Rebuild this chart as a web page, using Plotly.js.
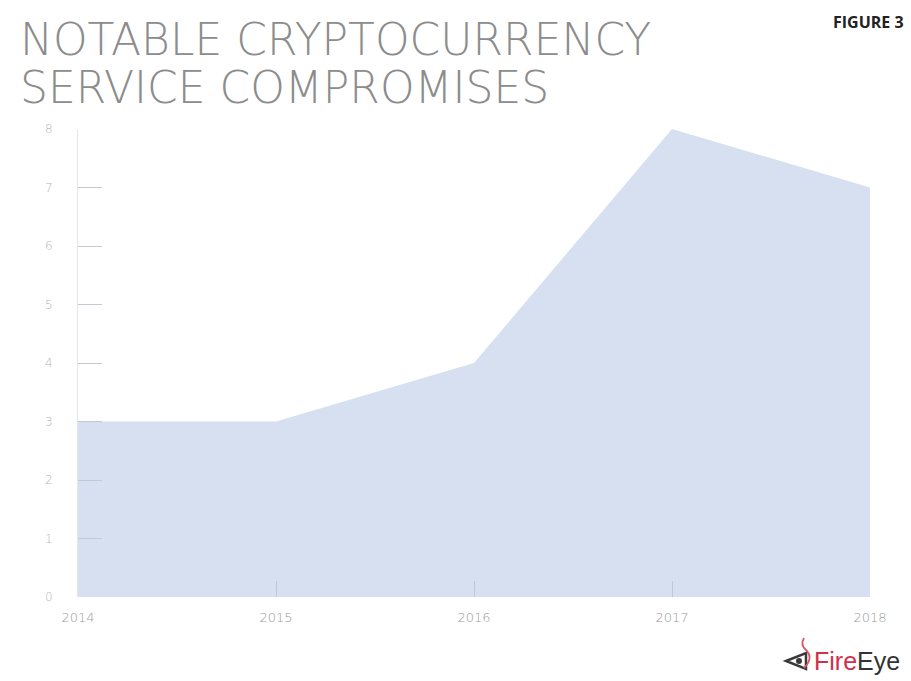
<!DOCTYPE html>
<html>
<head>
<meta charset="utf-8">
<script src="https://cdn.plot.ly/plotly-3.0.1.min.js"></script>
<style>html,body{margin:0;padding:0;background:#fff;}#chart{width:911px;height:681px;}</style>
</head>
<body>
<div id="chart"></div>
<script>
var years = [2014, 2015, 2016, 2017, 2018];
var yearLabels = ['2014', '2015', '2016', '2017', '2018'];
var compromises = [3, 3, 4, 8, 7];
var yTicks = [0, 1, 2, 3, 4, 5, 6, 7, 8];

var trace = {
  x: years,
  y: compromises,
  type: 'scatter',
  mode: 'lines',
  fill: 'tozeroy',
  fillcolor: '#d6e0f1',
  line: {width: 0, color: '#d6e0f1'},
  hoverinfo: 'x+y'
};

// pixel -> paper helpers for decorative logo placement
function px(x) { return (x - 78) / 792; }
function py(y) { return (597 - y) / 468; }

var layout = {
  width: 911,
  height: 681,
  margin: {l: 78, r: 41, t: 129, b: 84},
  paper_bgcolor: '#ffffff',
  plot_bgcolor: '#ffffff',
  showlegend: false,
  font: {family: 'DejaVu Sans, sans-serif', color: '#aaaaaa'},
  xaxis: {
    range: [2014, 2018],
    tickvals: years,
    ticktext: yearLabels,
    showgrid: false,
    zeroline: false,
    showline: false,
    ticks: 'inside',
    ticklen: 16,
    tickcolor: '#bfc7d6',
    tickwidth: 1,
    ticklabelstandoff: 11,
    tickfont: {size: 13, color: '#999999', family: 'DejaVu Sans, sans-serif', weight: 300},
    fixedrange: true
  },
  yaxis: {
    range: [0, 8],
    tickvals: yTicks,
    showgrid: false,
    zeroline: false,
    showline: true,
    linecolor: '#e6e6e6',
    linewidth: 1,
    ticks: 'inside',
    ticklen: 24,
    tickcolor: '#c4c8d0',
    tickwidth: 1,
    ticklabelstandoff: 22,
    tickfont: {size: 12, color: '#b5b5b5', family: 'DejaVu Sans, sans-serif', weight: 300},
    fixedrange: true
  },
  shapes: [
    {
      type: 'path', xref: 'paper', yref: 'paper',
      path: 'M ' + px(786) + ',' + py(661) + ' L ' + px(806) + ',' + py(653) +
            ' L ' + px(806) + ',' + py(669) + ' Z',
      line: {color: '#3a3a3a', width: 2.5},
      fillcolor: 'rgba(0,0,0,0)'
    },
    {
      type: 'circle', xref: 'paper', yref: 'paper',
      x0: px(796), x1: px(802), y0: py(664), y1: py(658),
      line: {width: 0}, fillcolor: '#3a3a3a'
    },
    {
      type: 'path', xref: 'paper', yref: 'paper',
      path: 'M ' + px(804) + ',' + py(668) + ' Q ' + px(814) + ',' + py(658) + ' ' +
            px(806) + ',' + py(650) + ' Q ' + px(800) + ',' + py(645) + ' ' + px(804) + ',' + py(638),
      line: {color: '#d8556a', width: 1.8},
      fillcolor: 'rgba(0,0,0,0)'
    }
  ],
  annotations: [
    {
      text: 'NOTABLE CRYPTOCURRENCY',
      xref: 'paper', yref: 'paper',
      x: px(18), y: py(39),
      xanchor: 'left', yanchor: 'middle',
      showarrow: false,
      font: {family: 'DejaVu Sans, sans-serif', size: 44, color: '#8c8c8c', weight: 200}
    },
    {
      text: 'SERVICE COMPROMISES',
      xref: 'paper', yref: 'paper',
      x: px(18), y: py(87),
      xanchor: 'left', yanchor: 'middle',
      showarrow: false,
      font: {family: 'DejaVu Sans, sans-serif', size: 44, color: '#8c8c8c', weight: 200}
    },
    {
      text: '<b>FIGURE 3</b>',
      xref: 'paper', yref: 'paper',
      x: px(906), y: py(22),
      xanchor: 'right', yanchor: 'middle',
      showarrow: false,
      font: {family: 'Open Sans, sans-serif', size: 16, color: '#222222'}
    },
    {
      text: '<span style="color:#d0304a">Fire</span><span style="color:#333333">Eye</span>',
      xref: 'paper', yref: 'paper',
      x: px(902), y: py(661),
      xanchor: 'right', yanchor: 'middle',
      showarrow: false,
      font: {family: 'Liberation Sans, Arial, sans-serif', size: 25}
    }
  ]
};

Plotly.newPlot('chart', [trace], layout, {displayModeBar: false, staticPlot: true});
</script>
</body>
</html>
